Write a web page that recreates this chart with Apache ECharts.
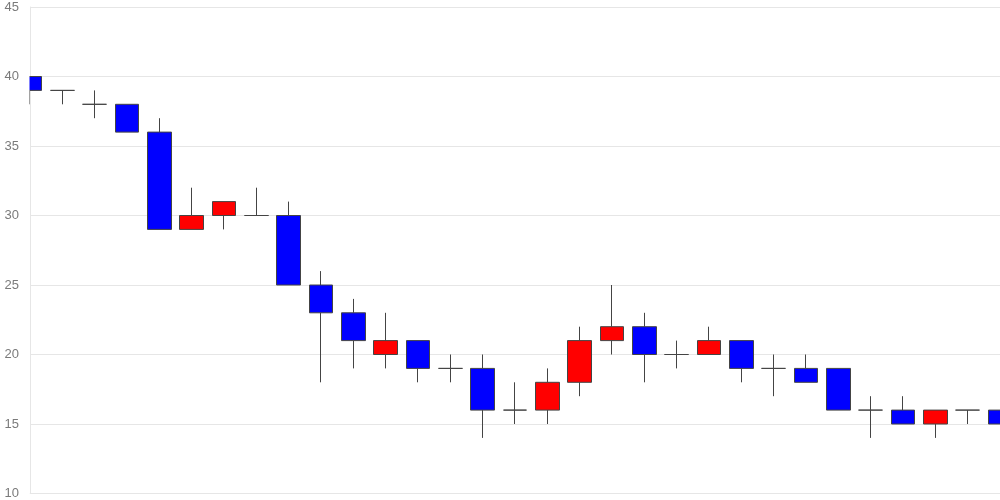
<!DOCTYPE html>
<html><head><meta charset="utf-8">
<script src="https://cdn.jsdelivr.net/npm/echarts@6/dist/echarts.min.js"></script>
<style>html,body{margin:0;padding:0;background:#fff}#c{width:1000px;height:500px}</style>
</head><body><div id="c"></div>
<script>
const categories = Array.from({length:31},(_,i)=>String(i+1));
const opens  = [40,39,38,38,36,29,30,30,30,25,23,20,21,19,19,16,16,18,21,22,20,20,21,19,19,19,16,16,15,16,16];
const closes = [39,39,38,36,29,30,31,30,25,23,21,21,19,19,16,16,18,21,22,20,20,21,19,19,18,16,16,15,16,16,15];
const lows   = [38,38,37,36,29,29,29,30,25,18,19,19,18,18,14,15,15,17,20,18,19,20,18,17,18,16,14,15,14,15,15];
const highs  = [40,39,39,38,37,32,31,32,31,26,24,23,21,20,20,18,19,22,25,23,21,22,21,20,20,19,17,17,16,16,16];
const yTicks = [10,15,20,25,30,35,40,45];

const data = categories.map((c,i)=>[opens[i],closes[i],lows[i],highs[i]]);
const chart = echarts.init(document.getElementById('c'));
const yMin = yTicks[0], yMax = yTicks[yTicks.length-1];
chart.setOption({
  animation:false,
  grid:{left:30,right:0,top:7,bottom:6,containLabel:false},
  graphic:[{type:'rect',z:5,silent:true,shape:{x:0,y:0,width:29.5,height:500},style:{fill:'#fff'}}],
  xAxis:{type:'category',data:categories,boundaryGap:false,
    axisLine:{show:true,lineStyle:{color:'#e6e6e6'}},axisTick:{show:false},axisLabel:{show:false},splitLine:{show:false}},
  yAxis:[
    {type:'value',min:yMin,max:yMax,interval:5,
     axisLine:{show:true,lineStyle:{color:'#e6e6e6'}},axisTick:{show:false},axisLabel:{show:false},
     splitLine:{lineStyle:{color:'#e6e6e6'}}},
    {type:'value',min:yMin,max:yMax,interval:5,position:'left',z:10,
     axisLine:{show:false},axisTick:{show:false},splitLine:{show:false},
     axisLabel:{color:'#7a7a7a',fontSize:13,fontFamily:'Liberation Sans, Arial, sans-serif',margin:11}}
  ],
  series:[{type:'candlestick',data:data,barWidth:24,clip:true,yAxisIndex:0,
    itemStyle:{color:'#ff0000',color0:'#0000ff',borderColor:'#444',borderColor0:'#444',borderColorDoji:'#444',borderWidth:1}}]
});
</script></body></html>
